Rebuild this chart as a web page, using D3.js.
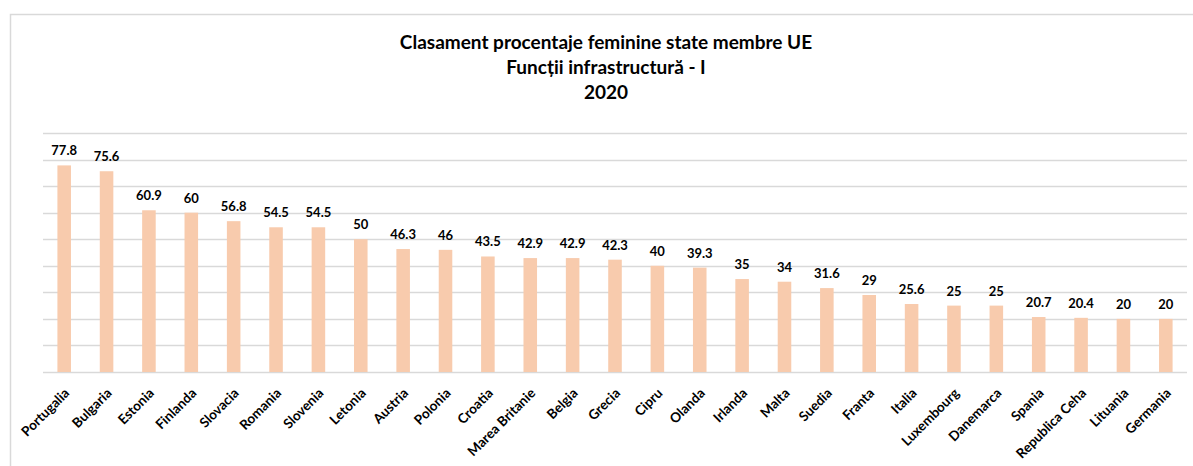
<!DOCTYPE html>
<html>
<head>
<meta charset="utf-8">
<script src="https://cdn.jsdelivr.net/npm/d3@7"></script>
<style>
  body { margin: 0; background: #fff; }
  text { font-family: Lato, "Open Sans", sans-serif; font-weight: bold; fill: #000; }
</style>
</head>
<body>
<script>
const countries = ["Portugalia", "Bulgaria", "Estonia", "Finlanda", "Slovacia", "Romania", "Slovenia",
    "Letonia", "Austria", "Polonia", "Croatia", "Marea Britanie", "Belgia", "Grecia", "Cipru", "Olanda",
    "Irlanda", "Malta", "Suedia", "Franta", "Italia", "Luxembourg", "Danemarca", "Spania",
    "Republica Ceha", "Lituania", "Germania"];
const values = [77.8, 75.6, 60.9, 60, 56.8, 54.5, 54.5, 50, 46.3, 46, 43.5, 42.9, 42.9, 42.3, 40, 39.3,
    35, 34, 31.6, 29, 25.6, 25, 25, 20.7, 20.4, 20, 20];
const titleLines = ["Clasament procentaje feminine state membre UE", "Funcții infrastructură - I", "2020"];

const w = 1193, h = 466;
const margin = { top: 133, right: 6, bottom: 94, left: 43 };

const svg = d3.select("body").append("svg")
    .attr("width", w)
    .attr("height", h);

// chart frame
svg.append("rect")
    .attr("x", 10.5)
    .attr("y", 14.5)
    .attr("width", w + 10)
    .attr("height", h + 10)
    .attr("fill", "none")
    .attr("stroke", "#d9d9d9")
    .attr("stroke-width", 1.5);

const x = d3.scaleBand()
    .domain(countries)
    .range([margin.left, w - margin.right])
    .paddingInner(0.68)
    .paddingOuter(0.34);

const y = d3.scaleLinear()
    .domain([0, 90])
    .range([h - margin.bottom, margin.top]);

// gridlines
svg.append("g")
    .selectAll("line")
    .data(y.ticks(9))
    .enter().append("line")
    .attr("x1", margin.left)
    .attr("x2", w - margin.right)
    .attr("y1", function (d) { return Math.round(y(d)) + 0.5; })
    .attr("y2", function (d) { return Math.round(y(d)) + 0.5; })
    .attr("stroke", "#d9d9d9")
    .attr("stroke-width", 1.5);

// bars
svg.append("g")
    .selectAll("rect")
    .data(values)
    .enter().append("rect")
    .attr("x", function (d, i) { return x(countries[i]); })
    .attr("y", function (d) { return y(d); })
    .attr("width", x.bandwidth())
    .attr("height", function (d) { return y(0) - y(d); })
    .attr("fill", "#f8cbad");

// value labels
svg.append("g")
    .selectAll("text")
    .data(values)
    .enter().append("text")
    .text(function (d) { return d; })
    .attr("x", function (d, i) { return x(countries[i]) + x.bandwidth() / 2; })
    .attr("y", function (d) { return y(d) - 10; })
    .attr("text-anchor", "middle")
    .attr("font-size", "13px");

// category labels
svg.append("g")
    .selectAll("text")
    .data(countries)
    .enter().append("text")
    .text(function (d) { return d; })
    .attr("transform", function (d) {
        return "translate(" + (x(d) + x.bandwidth() / 2 + 6) + "," + (y(0) + 22) + ") rotate(-45)";
    })
    .attr("text-anchor", "end")
    .attr("font-size", "13.5px");

// title
svg.append("g")
    .selectAll("text")
    .data(titleLines)
    .enter().append("text")
    .text(function (d) { return d; })
    .attr("x", 606)
    .attr("y", function (d, i) { return 49 + i * 25; })
    .attr("text-anchor", "middle")
    .attr("font-size", "19px");
</script>
</body>
</html>
